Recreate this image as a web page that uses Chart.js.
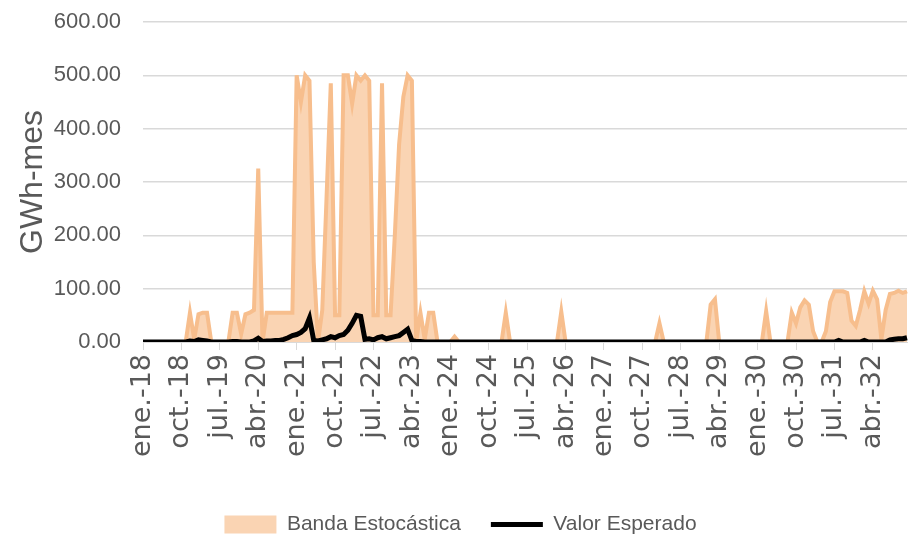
<!DOCTYPE html>
<html>
<head>
<meta charset="utf-8">
<script src="https://cdn.jsdelivr.net/npm/chart.js@4/dist/chart.umd.min.js"></script>
<style>
  body { margin: 0; background: #ffffff; }
  #box { width: 913px; height: 541px; }
</style>
</head>
<body>
<div id="box"><canvas id="lineChart"></canvas></div>
<script>
// monthly data, ene.-18 .. dic.-32, one row per year
let months = ['ene.', 'feb.', 'mar.', 'abr.', 'may.', 'jun.', 'jul.', 'ago.', 'sep.', 'oct.', 'nov.', 'dic.'];
let years = ['18', '19', '20', '21', '22', '23', '24', '25', '26', '27', '28', '29', '30', '31', '32'];

let banda = [
  0, 0, 0, 0, 0, 0, 0, 0, 0, 0, 0, 55,
  5, 52, 55, 55, 0, 0, 0, 0, 0, 55, 55, 15,
  52, 55, 60, 325, 0, 55, 55, 55, 55, 55, 55, 55,
  500, 450, 500, 490, 150, 0, 60, 270, 485, 50, 50, 500,
  500, 447, 500, 490, 500, 490, 50, 50, 485, 50, 50, 200,
  370, 460, 500, 490, 0, 55, 5, 55, 55, 0, 0, 0,
  0, 10, 0, 0, 0, 0, 0, 0, 0, 0, 0, 0,
  0, 55, 0, 0, 0, 0, 0, 0, 0, 0, 0, 0,
  0, 0, 57, 0, 0, 0, 0, 0, 0, 0, 0, 0,
  0, 0, 0, 0, 0, 0, 0, 0, 0, 0, 0, 0,
  0, 35, 0, 0, 0, 0, 0, 0, 0, 0, 0, 0,
  0, 70, 80, 0, 0, 0, 0, 0, 0, 0, 0, 0,
  0, 0, 58, 0, 0, 0, 0, 0, 55, 35, 65, 78,
  70, 20, 0, 0, 20, 75, 95, 95, 95, 92, 40, 30,
  60, 95, 72, 96, 80, 5, 60, 90, 92, 96, 92, 95
];

let esperado = [
  0, 0, 0, 0, 0, 0, 0, 0, 0, 0, 0, 2,
  1, 4, 3, 2, 0, 0, 0, 0, 0, 1, 1, 0,
  0, 0, 2, 7, 1, 2, 2, 3, 3, 5, 8, 12,
  14, 18, 25, 45, 3, 2, 4, 6, 10, 8, 12, 14,
  22, 35, 50, 48, 5, 6, 4, 8, 10, 6, 8, 10,
  12, 18, 24, 3, 1, 1, 0, 0, 0, 0, 0, 0,
  0, 0, 0, 0, 0, 0, 0, 0, 0, 0, 0, 0,
  0, 0, 0, 0, 0, 0, 0, 0, 0, 0, 0, 0,
  0, 0, 0, 0, 0, 0, 0, 0, 0, 0, 0, 0,
  0, 0, 0, 0, 0, 0, 0, 0, 0, 0, 0, 0,
  0, 0, 0, 0, 0, 0, 0, 0, 0, 0, 0, 0,
  0, 0, 0, 0, 0, 0, 0, 0, 0, 0, 0, 0,
  0, 0, 0, 0, 0, 0, 0, 0, 0, 0, 0, 0,
  0, 0, 0, 0, 0, 0, 0, 3, 0, 0, 0, 0,
  0, 3, 0, 0, 0, 0, 0, 4, 5, 6, 6, 8
];

let yTicks = [0, 100, 200, 300, 400, 500, 600];
let labelEvery = 9;

let sans = "'Liberation Sans', sans-serif";
let grey = '#595959';

function chartdata() {
  let chartdata = {};
  let labels = chartdata.labels = [];
  years.map(yy => {
    months.map(m => labels.push(m + '-' + yy));
  });

  chartdata.datasets = [];
  chartdata.datasets.push({
    label: 'Banda Estocástica',
    data: banda,
    fill: 'origin',
    backgroundColor: '#FAD4B3',
    borderColor: '#F7BE8D',
    borderWidth: 4,
    pointRadius: 0,
    tension: 0,
    order: 2,
    pointStyle: 'rect'
  });
  chartdata.datasets.push({
    label: 'Valor Esperado',
    data: esperado,
    fill: false,
    borderColor: '#000000',
    backgroundColor: '#000000',
    borderWidth: 5,
    pointRadius: 0,
    tension: 0,
    order: 1,
    pointStyle: 'line'
  });

  plotdata(chartdata);
}

function plotdata(chartdata) {
  let chartformat = {};
  chartformat.type = 'line';
  chartformat.data = chartdata;

  let options = chartformat.options = {};
  options.responsive = true;
  options.maintainAspectRatio = false;
  options.animation = false;
  options.layout = { padding: { top: 22, right: 6, left: 14, bottom: -4 } };

  options.plugins = {};
  options.plugins.tooltip = { enabled: false };
  options.plugins.legend = {
    position: 'bottom',
    labels: {
      usePointStyle: true,
      pointStyleWidth: 52,
      boxHeight: 18,
      padding: 30,
      color: grey,
      font: { family: sans, size: 21 },
      sort: (a, b) => a.datasetIndex - b.datasetIndex,
      generateLabels: chart => {
        let items = Chart.defaults.plugins.legend.labels.generateLabels(chart);
        items.map(it => {
          if (it.datasetIndex === 0) {
            it.lineWidth = 0;
            it.strokeStyle = 'rgba(0,0,0,0)';
          }
        });
        return items;
      }
    }
  };

  options.scales = {};
  options.scales.x = {
    grid: { drawOnChartArea: false, drawTicks: true, tickLength: 8, color: '#D9D9D9' },
    border: { color: '#D9D9D9' },
    ticks: {
      autoSkip: false,
      minRotation: 90,
      maxRotation: 90,
      padding: 4,
      color: grey,
      font: { family: "'DejaVu Sans', sans-serif", size: 27 },
      callback: function(v, i) {
        return i % labelEvery === 0 ? this.getLabelForValue(v) : null;
      }
    },
    afterFit: scale => { scale.height = 142; }
  };
  options.scales.y = {
    min: yTicks[0],
    max: yTicks[yTicks.length - 1],
    grid: { color: '#D9D9D9', lineWidth: 1.5, drawTicks: false },
    border: { display: false },
    title: {
      display: true,
      text: 'GWh-mes',
      color: grey,
      font: { family: sans, size: 32 },
      padding: 0
    },
    ticks: {
      stepSize: 100,
      padding: 22,
      color: grey,
      font: { family: sans, size: 22 },
      callback: v => v.toFixed(2)
    },
    afterFit: scale => {
      scale.width = 129;
      scale.paddingTop = 0;
      scale.paddingBottom = 0;
    }
  };

  new Chart(document.getElementById('lineChart'), chartformat);
}

chartdata();
</script>
</body>
</html>
